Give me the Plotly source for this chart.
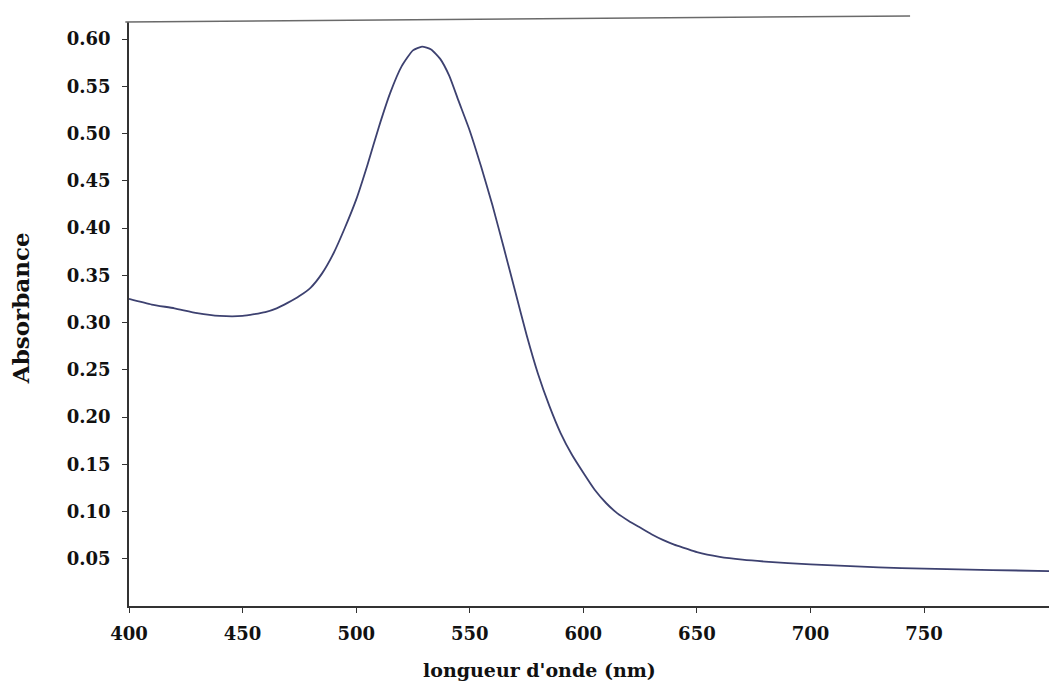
import plotly.graph_objects as go

wavelength = [400, 410, 420, 430, 440, 450, 460, 465, 470, 475, 480, 485, 490, 495,
              500, 505, 510, 515, 520, 525, 529, 533, 537, 541, 545, 550, 555, 560,
              565, 570, 575, 580, 585, 590, 595, 600, 605, 610, 615, 620, 625, 630,
              635, 640, 645, 650, 660, 670, 680, 700, 720, 740, 760, 780, 805]
absorbance = [0.325, 0.319, 0.315, 0.310, 0.307, 0.307, 0.311, 0.315, 0.321, 0.328,
              0.337, 0.352, 0.373, 0.400, 0.430, 0.467, 0.507, 0.543, 0.571, 0.588,
              0.592, 0.589, 0.579, 0.561, 0.535, 0.503, 0.465, 0.424, 0.379, 0.333,
              0.287, 0.246, 0.212, 0.183, 0.160, 0.141, 0.123, 0.109, 0.098, 0.090,
              0.083, 0.076, 0.070, 0.065, 0.061, 0.057, 0.052, 0.049, 0.047, 0.044,
              0.042, 0.040, 0.039, 0.038, 0.037]

x_ticks = [400, 450, 500, 550, 600, 650, 700, 750]
y_ticks = [0.05, 0.10, 0.15, 0.20, 0.25, 0.30, 0.35, 0.40, 0.45, 0.50, 0.55, 0.60]
y_tick_text = ["%.2f" % v for v in y_ticks]

x_title = "longueur d'onde (nm)"
y_title = "Absorbance"

FONT = "DejaVu Serif"

fig = go.Figure()
fig.add_trace(go.Scatter(x=wavelength, y=absorbance, mode="lines",
                         line=dict(color="#3d4170", width=1.8, shape="spline", smoothing=0.5),
                         showlegend=False, hoverinfo="skip"))

fig.update_layout(
    width=1049, height=684,
    margin=dict(l=129, r=0, t=22, b=78, pad=0),
    plot_bgcolor="white", paper_bgcolor="white",
    font=dict(family=FONT, size=18, color="#111"),
    xaxis=dict(range=[400, 805], tickvals=x_ticks, ticktext=[str(v) for v in x_ticks],
               showgrid=False, zeroline=False, showline=True, linecolor="#333", linewidth=1.5,
               ticks="outside", ticklen=5, tickcolor="#333", tickwidth=1.2,
               tickfont=dict(family=FONT, size=18, color="#111", weight="bold"),
               ticklabelstandoff=6),
    yaxis=dict(range=[0, 0.618], tickvals=y_ticks, ticktext=y_tick_text,
               showgrid=False, zeroline=False, showline=True, linecolor="#333", linewidth=1.5,
               ticks="outside", ticklen=5, tickcolor="#333", tickwidth=1.2,
               tickfont=dict(family=FONT, size=18, color="#111", weight="bold"),
               ticklabelstandoff=8),
)

# top border (partial, slightly tilted as in the scan)
fig.add_shape(type="line", xref="paper", yref="paper",
              x0=-0.004, y0=1.0, x1=0.849, y1=1.0103,
              line=dict(color="#6a6a6a", width=1.5))

fig.add_annotation(text=x_title, xref="paper", yref="paper", x=0.446, y=0,
                   yshift=-64, showarrow=False, xanchor="center", yanchor="middle",
                   font=dict(family=FONT, size=19, color="#111", weight="bold"))
fig.add_annotation(text=y_title, xref="paper", yref="paper", x=0, y=0.51,
                   xshift=-109, showarrow=False, xanchor="center", yanchor="middle",
                   textangle=-90,
                   font=dict(family=FONT, size=23, color="#111", weight="bold"))

fig.write_html("out.html")
